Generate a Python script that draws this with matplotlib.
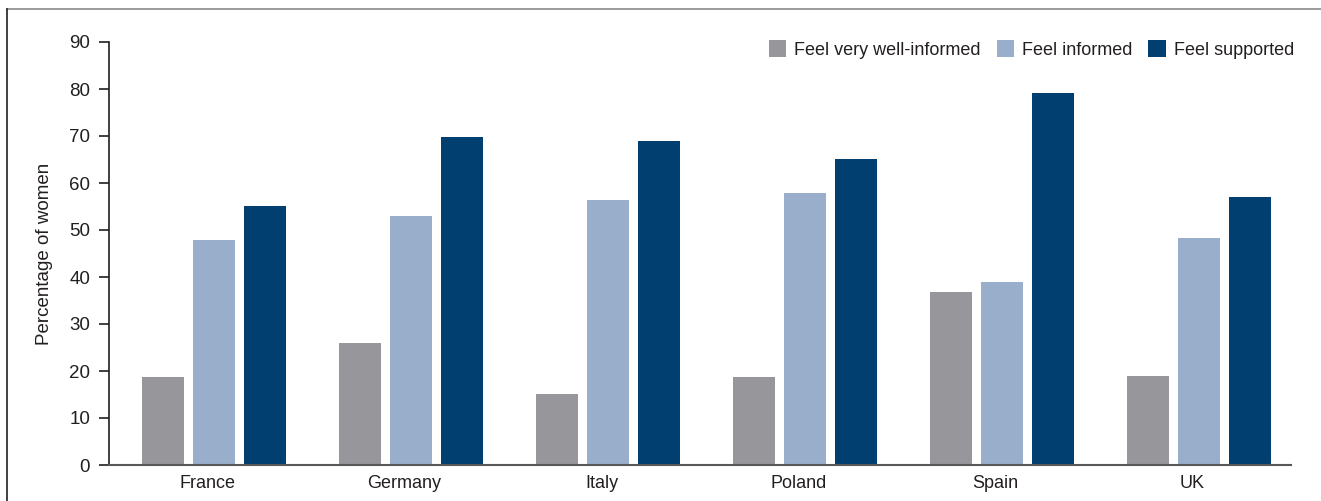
import numpy as np
import matplotlib.pyplot as plt
from matplotlib.lines import Line2D
from matplotlib.patches import Patch
from matplotlib import font_manager

countries = ['France', 'Germany', 'Italy', 'Poland', 'Spain', 'UK']
very_well_informed = [18.7, 26.0, 15.1, 18.7, 36.8, 18.9]
informed = [47.9, 53.0, 56.4, 57.9, 38.9, 48.3]
supported = [55.1, 69.8, 68.9, 65.1, 79.1, 57.0]
series_names = ['Feel very well-informed', 'Feel informed', 'Feel supported']
colors = ['#97979b', '#98aeca', '#003f70']

names = {f.name for f in font_manager.fontManager.ttflist}
font = 'Liberation Sans Narrow' if 'Liberation Sans Narrow' in names else 'Liberation Sans'
plt.rcParams['font.family'] = [font, 'DejaVu Sans']
text_color = '#231f20'

W, H = 1321, 501
fig = plt.figure(figsize=(W / 100, H / 100), dpi=100)
ax = fig.add_axes([109 / W, (H - 465) / H, (1291 - 109) / W, (465 - 42) / H])

x = np.arange(len(countries))
width = 0.218
step = 0.259
shift = 0.033
for k, (vals, c) in enumerate(zip([very_well_informed, informed, supported], colors)):
    ax.bar(x + shift + (k - 1) * step, vals, width, color=c, label=series_names[k])

ax.set_xlim(-0.5, len(countries) - 0.5)
ax.set_ylim(0, 90)
ax.set_yticks(range(0, 91, 10))
ax.set_xticks(x)
ax.set_xticklabels(countries)
ax.tick_params(axis='x', length=0, pad=7, labelsize=13, labelcolor=text_color)
ax.tick_params(axis='y', length=7.5, width=1.2, color='#231f20', pad=6,
               labelsize=13.5, labelcolor=text_color)
for s in ['top', 'right']:
    ax.spines[s].set_visible(False)
ax.spines['left'].set_color('#231f20')
ax.spines['left'].set_linewidth(1.2)
ax.spines['bottom'].set_color('#58585a')
ax.spines['bottom'].set_linewidth(1.5)
ax.set_ylabel('Percentage of women', fontsize=13.5, color=text_color, labelpad=12)

handles = [Patch(facecolor=c, edgecolor='none') for c in colors]
fig.legend(handles, series_names, loc='upper right', ncol=3, frameon=False,
           bbox_to_anchor=(1294 / W, (H - 40) / H), fontsize=13,
           handlelength=0.95, handleheight=1.1, handletextpad=0.45,
           columnspacing=0.9, borderaxespad=0, borderpad=0,
           labelcolor=text_color)

# outer frame (top and left edges visible)
fig.add_artist(Line2D([7 / W, 1], [(H - 9) / H, (H - 9) / H], color='#8a8a8a', lw=1.2,
                      transform=fig.transFigure))
fig.add_artist(Line2D([7 / W, 7 / W], [0, (H - 9) / H], color='#231f20', lw=1.2,
                      transform=fig.transFigure))

fig.savefig('out.png', dpi=100)
